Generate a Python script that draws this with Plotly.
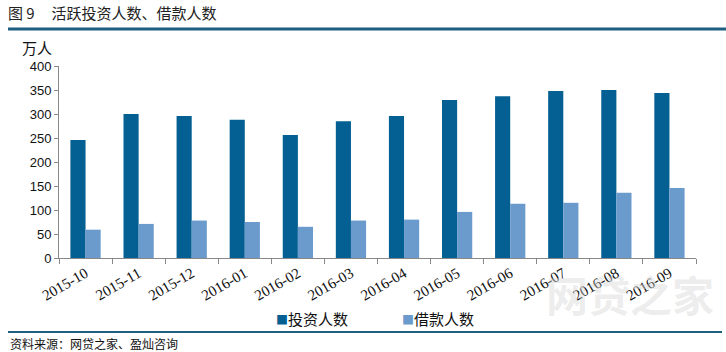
import plotly.graph_objects as go

categories = ["2015-10", "2015-11", "2015-12", "2016-01", "2016-02", "2016-03",
              "2016-04", "2016-05", "2016-06", "2016-07", "2016-08", "2016-09"]
investors = [246, 300, 296, 288, 256, 285, 296, 329, 337, 348, 350, 344]
borrowers = [59, 71, 78, 75, 65, 78, 80, 96, 113, 115, 136, 146]
y_ticks = [0, 50, 100, 150, 200, 250, 300, 350, 400]
series_names = ["投资人数", "借款人数"]
colors = ["#045f92", "#6b9bcc"]

W, H = 726, 352
L, R, T, B = 59, 30, 66, 94

CJK = "Noto Sans CJK SC"

fig = go.Figure()
fig.add_trace(go.Bar(x=categories, y=investors, name=series_names[0],
                     marker=dict(color=colors[0], line=dict(width=0)), showlegend=False))
fig.add_trace(go.Bar(x=categories, y=borrowers, name=series_names[1],
                     marker=dict(color=colors[1], line=dict(width=0)), showlegend=False))

def px_x(p):
    return (p - L) / (W - L - R)

def px_y(p):
    return 1 - (p - T) / (H - T - B)

fig.update_layout(
    width=W, height=H,
    margin=dict(l=L, r=R, t=T, b=B, pad=0),
    paper_bgcolor="white", plot_bgcolor="white",
    barmode="group", bargap=0.43, bargroupgap=0,
    xaxis=dict(type="category", tickson="boundaries", ticks="outside", ticklen=5,
               tickcolor="#888", showline=True, linecolor="#888", linewidth=1,
               tickangle=-30, tickfont=dict(family="Liberation Serif", size=15, color="#111"),
               showgrid=False),
    yaxis=dict(range=[0, 400], tickvals=y_ticks, ticks="outside", ticklen=4,
               tickcolor="#888", showline=True, linecolor="#888", linewidth=1,
               tickfont=dict(family="Liberation Sans", size=13, color="#111"),
               showgrid=False, zeroline=False),
    font=dict(family=CJK),
)

# watermark
fig.add_annotation(xref="paper", yref="paper", x=px_x(630), y=px_y(293), xanchor="center",
                   yanchor="middle", showarrow=False, text="<b>网贷之家</b>",
                   font=dict(family=CJK, size=42, color="rgba(215,215,215,0.45)"))

# title
fig.add_annotation(xref="paper", yref="paper", x=px_x(6), y=px_y(13), xanchor="left",
                   yanchor="middle", showarrow=False,
                   text="图&nbsp;9&nbsp;&nbsp;&nbsp;&nbsp;&nbsp;活跃投资人数、借款人数",
                   font=dict(family=CJK, size=15, color="#222"))
# unit
fig.add_annotation(xref="paper", yref="paper", x=px_x(20), y=px_y(47), xanchor="left",
                   yanchor="middle", showarrow=False, text="万人",
                   font=dict(family=CJK, size=15, color="#111"))
# legend (custom, small square markers)
for name, col, xpos in zip(series_names, colors, [274, 400]):
    fig.add_annotation(xref="paper", yref="paper", x=px_x(xpos), y=px_y(318), xanchor="left",
                       yanchor="middle", showarrow=False,
                       text=f"<span style='color:{col};font-size:12px'>■</span>{name}",
                       font=dict(family=CJK, size=15, color="#111"))
# source
fig.add_annotation(xref="paper", yref="paper", x=px_x(8), y=px_y(343), xanchor="left",
                   yanchor="middle", showarrow=False, text="资料来源：网贷之家、盈灿咨询",
                   font=dict(family=CJK, size=12, color="#111"))

# rules
fig.add_shape(type="line", xref="paper", yref="paper", x0=px_x(8), x1=px_x(726),
              y0=px_y(29), y1=px_y(29), line=dict(color="#1e5f80", width=3))
fig.add_shape(type="line", xref="paper", yref="paper", x0=px_x(8), x1=px_x(722),
              y0=px_y(332), y1=px_y(332), line=dict(color="#1e5f80", width=2))

fig.write_html("out.html")
